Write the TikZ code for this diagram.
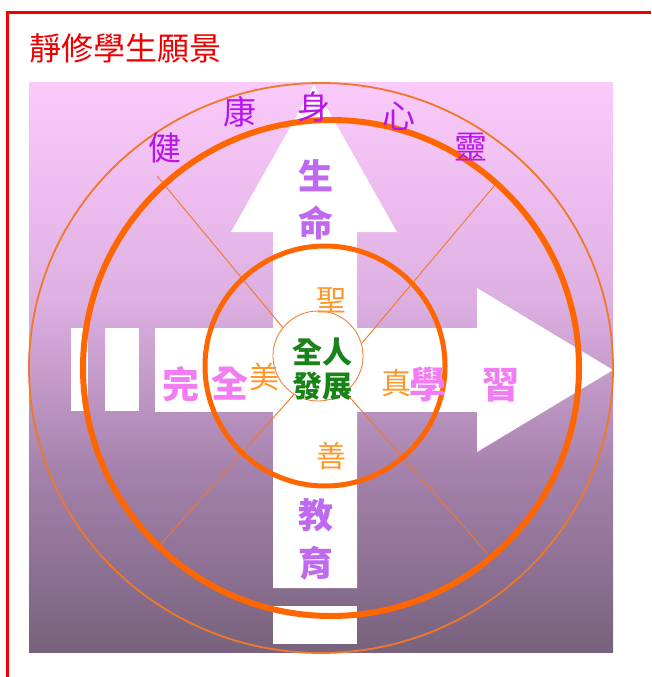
\documentclass[tikz,border=0pt]{standalone}
\usepackage{fontspec}
\newfontfamily\cjk{Noto Sans CJK TC}
\definecolor{framered}{RGB}{240,0,0}
\definecolor{bgtop}{RGB}{250,202,250}
\definecolor{bgupper}{RGB}{222,176,226}
\definecolor{bglower}{RGB}{165,130,172}
\definecolor{bgbottom}{RGB}{120,98,125}
\definecolor{ringorange}{RGB}{255,102,0}
\definecolor{spokeorange}{RGB}{240,120,40}
\definecolor{ringtext}{RGB}{185,20,235}
\definecolor{armtext}{RGB}{190,105,240}
\definecolor{pinktext}{RGB}{242,125,242}
\definecolor{virtuetext}{RGB}{255,150,40}
\definecolor{coretext}{RGB}{25,130,25}

\begin{document}
\begin{tikzpicture}[x=1pt, y=-1pt,
    ringchar/.style={font=\cjk\fontsize{33}{33}\selectfont, text=ringtext, inner sep=0pt},
    armchar/.style={font=\cjk\bfseries\fontsize{35}{35}\selectfont, text=armtext, inner sep=0pt},
    pinkchar/.style={font=\cjk\bfseries\fontsize{37}{37}\selectfont, text=pinktext, inner sep=0pt},
    virtuechar/.style={font=\cjk\fontsize{30}{30}\selectfont, text=virtuetext, inner sep=0pt},
    thickring/.style={draw=ringorange, line width=6pt}]

    \useasboundingbox (0,0) rectangle (651,677);

    % --- frame and title ---
    \draw[framered, line width=3pt] (7,677) -- (7,13) -- (651,13);
    \node[anchor=west, inner sep=0pt, text=framered, font=\cjk\fontsize{32}{32}\selectfont]
        (title) at (29,48) {靜修學生願景};

    % --- background ---
    \shade[top color=bgtop, bottom color=bgupper] (29,82) rectangle (613,300);
    \shade[top color=bgupper, bottom color=bglower] (29,299.5) rectangle (613,470);
    \shade[top color=bglower, bottom color=bgbottom] (29,469.5) rectangle (613,652);

    % --- arrows ---
    \fill[white] (314,85) -- (397,232) -- (357,232) -- (357,588)
        -- (273,588) -- (273,232) -- (231,232) -- cycle;
    \fill[white] (155,328) rectangle (478,412);
    \fill[white] (477,288) -- (613,370) -- (477,452) -- cycle;
    \fill[white] (71,328) rectangle (88,411);
    \fill[white] (105,328) rectangle (139,411);
    \fill[white] (273,606) rectangle (357,644);

    % --- rings and spokes ---
    \draw[spokeorange, line width=1.8pt] (321,368) ellipse [x radius=292pt, y radius=285pt];
    \node[circle, draw=spokeorange, line width=0.8pt, minimum size=90pt, inner sep=0pt]
        (core) at (318,356) {};
    \coordinate (spokeNW) at (157,176);
    \coordinate (spokeNE) at (495,185);
    \coordinate (spokeSW) at (160,545);
    \coordinate (spokeSE) at (487,553);
    \draw[spokeorange, line width=0.9pt] (core.141) -- (spokeNW);
    \draw[spokeorange, line width=0.9pt] (core.16) -- (spokeNE);
    \draw[spokeorange, line width=0.9pt] (core.238) -- (spokeSW);
    \draw[spokeorange, line width=0.9pt] (core.307) -- (spokeSE);
    \draw[thickring, line width=5pt] (325,366) circle [radius=120pt];
    \draw[thickring] (331,368) circle [radius=248pt];

    % --- outer ring words ---
    \node[ringchar] (jian) at (165,148) {健};
    \node[ringchar] (kang) at (240,112) {康};
    \node[ringchar] (shen) at (314,107) {身};
    \node[ringchar] (xin)  at (399,116) {心};
    \node[ringchar] (ling) at (471,147) {靈};

    % --- vertical arrow words ---
    \node[armchar] (sheng) at (316,176) {生};
    \node[armchar] (ming)  at (316,223) {命};
    \node[armchar] (jiao)  at (316,515) {教};
    \node[armchar] (yu)    at (316,563) {育};

    % --- horizontal arrow words ---
    \node[pinkchar] (wan)  at (181,384) {完};
    \node[pinkchar] (quan) at (230,384) {全};
    \node[pinkchar] (xue)  at (428,384) {學};
    \node[pinkchar] (xi)   at (501,385) {習};

    % --- four virtues ---
    \node[virtuechar] (holy) at (331,300) {聖};
    \node[virtuechar] (beauty) at (264,377) {美};
    \node[virtuechar] (truth) at (396,383) {真};
    \node[virtuechar] (good) at (331,456) {善};

    % --- centre ---
    \node[align=center, inner sep=0pt, text=coretext,
        font=\cjk\bfseries\fontsize{30}{34}\selectfont] (whole) at (322,369) {全人\\發展};

\end{tikzpicture}
\end{document}
